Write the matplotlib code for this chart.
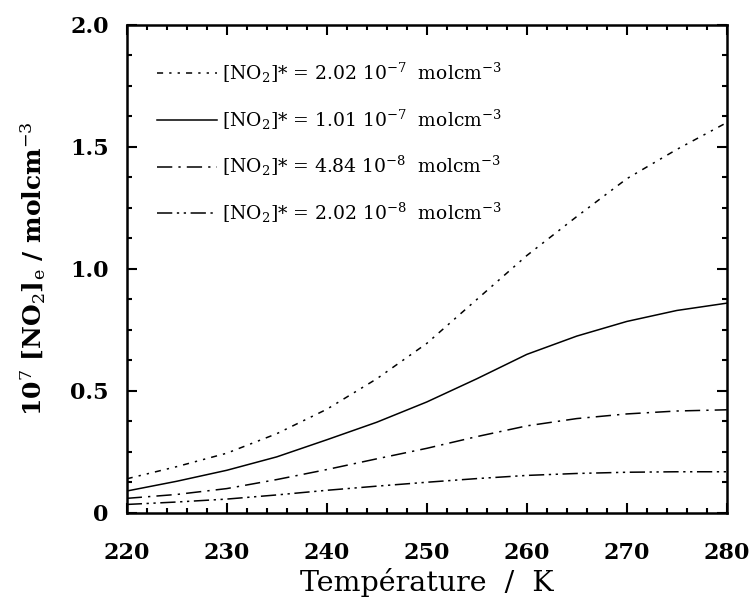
import numpy as np
import matplotlib
matplotlib.use('Agg')
import matplotlib.pyplot as plt
import matplotlib.ticker as ticker

# temperatures (K) and equilibrium NO2 (10^7 mol cm^-3)
temperature = [220, 225, 230, 235, 240, 245, 250, 255, 260, 265, 270, 275, 280]
no2_202e7 = [0.14, 0.19, 0.245, 0.325, 0.425, 0.55, 0.695, 0.875, 1.055, 1.215, 1.37, 1.49, 1.60]
no2_101e7 = [0.09, 0.13, 0.175, 0.23, 0.30, 0.372, 0.455, 0.55, 0.65, 0.725, 0.785, 0.83, 0.86]
no2_484e8 = [0.06, 0.076, 0.10, 0.137, 0.178, 0.222, 0.265, 0.313, 0.357, 0.387, 0.406, 0.418, 0.423]
no2_202e8 = [0.035, 0.045, 0.057, 0.074, 0.093, 0.11, 0.126, 0.141, 0.154, 0.162, 0.167, 0.169, 0.169]

labels = [
    r'[NO$_2$]* = 2.02 10$^{-7}$  molcm$^{-3}$',
    r'[NO$_2$]* = 1.01 10$^{-7}$  molcm$^{-3}$',
    r'[NO$_2$]* = 4.84 10$^{-8}$  molcm$^{-3}$',
    r'[NO$_2$]* = 2.02 10$^{-8}$  molcm$^{-3}$',
]
ytick_values = [0, 0.5, 1.0, 1.5, 2.0]
ytick_labels = ['0', '0.5', '1.0', '1.5', '2.0']

plt.rcParams['font.family'] = 'DejaVu Serif'
plt.rcParams['mathtext.fontset'] = 'dejavuserif'

fig = plt.figure(figsize=(7.52, 6.14), dpi=100)
ax = fig.add_axes([0.1685, 0.1645, 0.798, 0.7948])

styles = [
    dict(dashes=(4, 4, 1.5, 4, 1.5, 4)),
    dict(linestyle='-'),
    dict(dashes=(10, 4, 1.5, 4)),
    dict(dashes=(10, 3, 1.5, 3, 1.5, 3)),
]
series = [no2_202e7, no2_101e7, no2_484e8, no2_202e8]
for values, style, label in zip(series, styles, labels):
    ax.plot(temperature, values, color='black', lw=1.1, label=label, **style)

ax.set_xlim(220, 280)
ax.set_ylim(0, 2.0)
ax.xaxis.set_major_locator(ticker.MultipleLocator(10))
ax.xaxis.set_minor_locator(ticker.MultipleLocator(2))
ax.set_yticks(ytick_values)
ax.set_yticklabels(ytick_labels)
ax.yaxis.set_minor_locator(ticker.MultipleLocator(0.125))
ax.tick_params(which='both', direction='in', top=True, right=True, width=1.5)
ax.tick_params(which='major', length=7, labelsize=16)
ax.tick_params(which='minor', length=3.5)
ax.tick_params(axis='x', which='major', pad=21)
ax.tick_params(axis='y', which='major', pad=13)
for lab in ax.get_xticklabels() + ax.get_yticklabels():
    lab.set_fontweight('bold')
for sp in ax.spines.values():
    sp.set_linewidth(1.8)

ax.set_xlabel('Température  /  K', fontsize=20.5, labelpad=3)
ax.set_ylabel(r'10$^7$ [NO$_2$]$_\mathrm{e}$ / molcm$^{-3}$',
              fontsize=18, fontweight='bold', labelpad=16)

ax.legend(loc='upper left', frameon=False, fontsize=13.5, handlelength=3.15,
          handletextpad=0.3, labelspacing=1.2, borderaxespad=0.6,
          bbox_to_anchor=(0.02, 0.965))

fig.savefig('out.png', dpi=100)
